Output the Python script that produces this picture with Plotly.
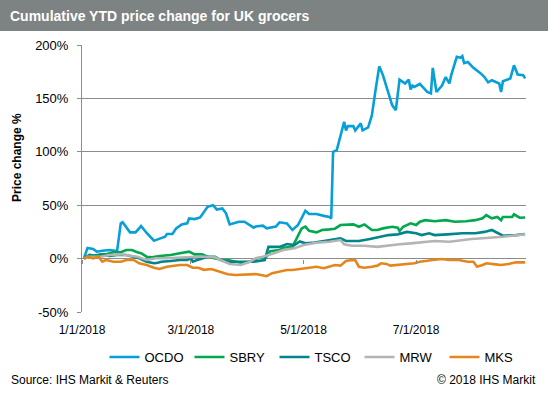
import pandas as pd
import plotly.graph_objects as go

# ---------------- data (day offset from 2018-01-01, % change) ----------------
START = "2018-01-01"
X_END = "2018-08-29 12:00"

OCDO_DAYS = [1, 3, 6, 8, 11, 15, 19, 21, 22, 26, 29, 32, 35, 39, 41, 45, 46, 49, 51, 54, 57, 58, 61, 64,
             68, 71, 73, 76, 78, 80, 85, 88, 93, 94, 98, 100, 105, 107, 111, 114, 117, 121, 123, 127, 131,
             134, 135, 136, 138, 140, 142, 143, 144, 147, 148, 151, 152, 155, 157, 159, 161, 163, 165, 168,
             170, 171, 172, 175, 177, 178, 179, 180, 183, 187, 189, 190, 192, 195, 197, 199, 200, 203, 205,
             206, 207, 209, 212, 216, 218, 220, 222, 226, 227, 228, 232, 234, 236, 239, 240]
OCDO_VALS = [0, 10, 9, 6.5, 7.4, 8, 7, 33, 34, 24.6, 24.6, 30.5, 24, 16.8, 18, 20.5, 23, 23, 28.3, 32, 33,
             37.7, 37, 38.5, 48.5, 50, 46, 47, 42.4, 32, 34.5, 34.5, 29, 30, 30.8, 28.3, 30, 34, 33, 26.8,
             31.4, 44.8, 41.7, 41.7, 40, 39, 37.7, 100, 101.6, 114, 128, 120, 124, 124, 120, 126.6, 120,
             122.8, 134, 157.7, 180, 171.8, 160.8, 143.7, 139, 154.6, 167.6, 164, 167.6, 158.4, 162, 160.8,
             163.5, 156, 154.6, 178.6, 156, 162, 170, 164, 171.8, 189, 188, 189.5, 183, 184, 178.6, 173.4,
             170, 165, 167, 164, 156, 166, 168.7, 181, 172.4, 171.8, 168.7]

SBRY_DAYS = [1, 4, 10, 13, 17, 21, 24, 27, 30, 32, 35, 38, 42, 48, 53, 58, 61, 65, 68, 72, 76, 79, 86, 91,
             95, 100, 102, 107, 109, 114, 116, 119, 121, 123, 127, 130, 134, 137, 140, 144, 147, 150, 153,
             157, 160, 163, 168, 171, 172, 174, 178, 181, 183, 186, 191, 197, 202, 208, 213, 217, 219, 222,
             225, 227, 228, 233, 234, 237, 240]
SBRY_VALS = [0, 1.8, 4, 4, 5.9, 5.9, 8, 8, 5.9, 5, 1.8, 1.2, 2.4, 3.4, 5, 6.5, 4, 4, 1.8, 0.3, -1.3, -1.3,
             -3.8, -2.9, 0.3, 1.8, 7, 8, 10.2, 11, 17.4, 28.3, 30, 26, 24.6, 26.8, 27.4, 28, 31.4, 32, 32,
             29.8, 32, 26.8, 26.8, 28.3, 29.8, 29, 25.8, 29.8, 33, 31.4, 34.5, 36, 35, 36, 34.5, 35, 36,
             37.7, 40.8, 37.7, 39, 36, 39, 39, 41.5, 38.3, 38.5]

TSCO_DAYS = [1, 4, 8, 11, 15, 19, 24, 28, 31, 35, 39, 41, 43, 48, 53, 57, 59, 60, 62, 68, 72, 75, 80, 86,
             93, 99, 101, 104, 107, 111, 115, 118, 121, 126, 129, 134, 140, 143, 150, 156, 163, 166, 171,
             176, 181, 184, 188, 191, 198, 206, 213, 218, 222, 226, 228, 235, 240]
TSCO_VALS = [0, 3.4, 2.4, 3.4, 2.4, 3.4, 3.4, 1.8, 0.3, -2.9, -4.4, -3.8, -2.9, -2.2, -1.3, -1.3, 0.3, -2.9,
             -1.5, 1.8, 1.8, -1.3, -2.9, -2.9, -2.9, -1.3, 11, 11, 11, 13.7, 12.7, 16, 14.3, 15, 15.8, 17.4,
             19, 16.5, 16.5, 18.3, 20.5, 22, 22.7, 25, 23.7, 22, 23.7, 22, 22.7, 23.7, 23.7, 25, 26.8, 23.7,
             21.4, 22, 23]

MRW_DAYS = [1, 4, 10, 15, 21, 26, 30, 35, 40, 46, 51, 57, 62, 66, 72, 75, 80, 86, 91, 94, 98, 104, 109, 115,
            120, 127, 134, 140, 142, 146, 153, 160, 167, 172, 178, 183, 186, 191, 199, 206, 211, 217, 222,
            228, 233, 240]
MRW_VALS = [0, 1.8, 1.8, 3.4, 4, 2.7, 1.8, -1.3, 0.3, 0.3, 0.9, 1.8, 1.8, 1.8, 1.2, -1.3, -5, -6, -2.9, 0.3,
            1.8, 5, 8, 9.6, 12.7, 14.9, 15.8, 17.4, 13.4, 12, 12, 11, 12, 13.4, 14.3, 15.2, 15.2, 16.5, 15.8,
            17.4, 18.3, 19, 19.5, 20.5, 21.4, 22.7]

MKS_DAYS = [1, 3, 6, 9, 11, 13, 17, 21, 24, 28, 31, 35, 39, 42, 46, 50, 53, 57, 60, 63, 66, 70, 74, 79, 83,
            88, 94, 97, 100, 103, 108, 111, 114, 119, 124, 127, 131, 134, 137, 140, 143, 146, 148, 150, 153,
            157, 160, 162, 165, 167, 170, 174, 176, 180, 183, 186, 190, 195, 199, 204, 209, 212, 214, 217,
            219, 224, 227, 231, 235, 240]
MKS_VALS = [0, 1.8, 0.3, 1.8, -2.9, -1.3, -2.9, -2.9, -1.3, -1.3, -4.4, -6, -8.5, -9.7, -7.6, -6.6, -6, -6,
            -8.5, -8.5, -10.5, -9.7, -12, -14.7, -15.3, -14.7, -14.5, -15.3, -16.5, -13.7, -11.6, -10.7,
            -10.7, -9.5, -8.5, -7.6, -9, -7.6, -6, -6.6, -2.2, -1.3, -1.5, -7.6, -8.5, -7.6, -6.6, -4.4, -5,
            -6.6, -6, -5.5, -5.4, -4.4, -2.9, -2, -1.3, -0.4, -1.3, -1.3, -2.9, -3, -7.6, -6, -4.4, -5.4, -6,
            -5, -3.5, -3.5]

SERIES = ["OCDO", "SBRY", "TSCO", "MRW", "MKS"]
COLORS = ["#079fd8", "#00a84f", "#00868a", "#b4b4b4", "#e5861c"]

TICK_DATES = ["2018-01-01", "2018-03-01", "2018-05-01", "2018-07-01"]
TICK_LABELS = ["1/1/2018", "3/1/2018", "5/1/2018", "7/1/2018"]
Y_TICKS = [-50, 0, 50, 100, 150, 200]
Y_TICK_LABELS = ["-50%", "0%", "50%", "100%", "150%", "200%"]

TITLE = "Cumulative YTD price change for UK grocers"
Y_TITLE = "Price change %"
SOURCE = "Source: IHS Markit & Reuters"
COPYRIGHT = "\u00a9 2018 IHS Markit"

# ---------------- figure ----------------
W, H = 548, 393
ML, MR, MT, MB = 82, 22, 45, 81
PW, PH = W - ML - MR, H - MT - MB
GRID = "#8c8c8c"
FONT = "Liberation Sans, Arial, sans-serif"


def px_x(x):
    return (x - ML) / PW


def px_y(y):
    return (H - MB - y) / PH


def to_dates(days):
    return pd.Timestamp(START) + pd.to_timedelta(days, unit="D")


data = {
    "OCDO": (OCDO_DAYS, OCDO_VALS),
    "SBRY": (SBRY_DAYS, SBRY_VALS),
    "TSCO": (TSCO_DAYS, TSCO_VALS),
    "MRW": (MRW_DAYS, MRW_VALS),
    "MKS": (MKS_DAYS, MKS_VALS),
}

fig = go.Figure()
for name, color in zip(SERIES, COLORS):
    d, v = data[name]
    fig.add_trace(go.Scatter(x=to_dates(d), y=v, mode="lines", name=name,
                             line=dict(color=color, width=2.6)))

# helper trace so the overlay axis (ticks on the 0% line) is drawn
fig.add_trace(go.Scatter(x=[START], y=[None], xaxis="x2", yaxis="y",
                         showlegend=False, hoverinfo="skip", mode="lines"))

fig.update_layout(
    width=W, height=H,
    margin=dict(l=ML, r=MR, t=MT, b=MB, autoexpand=False),
    paper_bgcolor="white", plot_bgcolor="white",
    font=dict(family=FONT, size=12, color="#000000"),
    showlegend=True,
    legend=dict(orientation="h", x=px_x(317), xanchor="center", y=px_y(357), yanchor="middle",
                font=dict(size=13), entrywidth=40, entrywidthmode="pixels",
                itemwidth=30, bgcolor="rgba(0,0,0,0)"),
    xaxis=dict(type="date", range=[START, X_END], showgrid=False, zeroline=False, showline=False,
               tickvals=TICK_DATES, ticktext=TICK_LABELS, ticks="", ticklabelstandoff=9,
               tickfont=dict(size=12)),
    xaxis2=dict(type="date", range=[START, X_END], overlaying="x", anchor="free",
                position=(0 - Y_TICKS[0]) / (Y_TICKS[-1] - Y_TICKS[0]), side="bottom",
                showgrid=False, zeroline=False, showline=False, tickvals=TICK_DATES,
                showticklabels=False, ticks="outside", ticklen=4, tickcolor=GRID, tickwidth=1),
    yaxis=dict(range=[Y_TICKS[0], Y_TICKS[-1]], tickvals=Y_TICKS, ticktext=Y_TICK_LABELS,
               showgrid=True, gridcolor=GRID, gridwidth=1, zeroline=False,
               showline=True, linecolor=GRID, linewidth=1, ticks="outside", ticklen=4,
               tickcolor=GRID, tickfont=dict(size=13), ticklabelstandoff=6),
    shapes=[dict(type="rect", xref="paper", yref="paper", x0=-0.3, x1=1.2,
                 y0=px_y(31), y1=px_y(-5), fillcolor="#7d8282", line=dict(width=0), layer="above")],
    annotations=[
        dict(text=TITLE, xref="paper", yref="paper", x=px_x(8), y=px_y(16), xanchor="left",
             yanchor="middle", showarrow=False,
             font=dict(size=14, color="white", family=FONT, weight="bold")),
        dict(text=Y_TITLE, xref="paper", yref="paper", x=px_x(17), y=px_y(158), xanchor="center",
             yanchor="middle", textangle=-90, showarrow=False,
             font=dict(size=12, color="black", family=FONT, weight="bold")),
        dict(text=SOURCE, xref="paper", yref="paper", x=px_x(9), y=px_y(380), xanchor="left",
             yanchor="middle", showarrow=False, font=dict(size=12, color="black")),
        dict(text=COPYRIGHT, xref="paper", yref="paper", x=px_x(538), y=px_y(380), xanchor="right",
             yanchor="middle", showarrow=False, font=dict(size=12, color="black")),
    ],
)

fig.write_html("out.html", config={"displayModeBar": False},
               post_script="document.body.style.margin='0';")
